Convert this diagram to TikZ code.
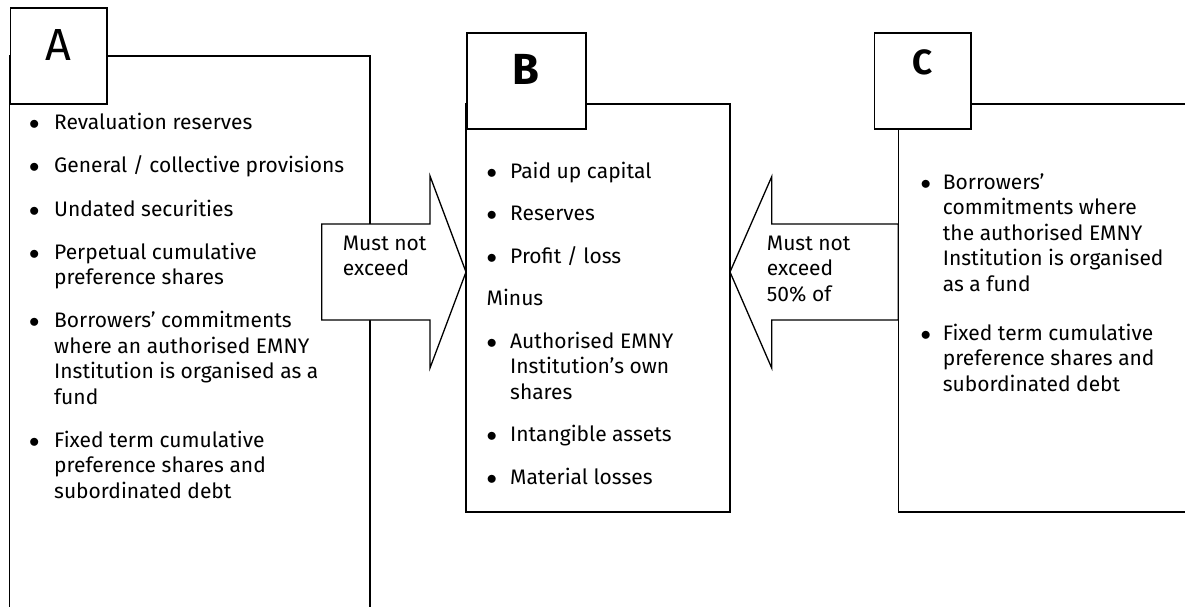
\documentclass[tikz,border=0pt]{standalone}
\usepackage{fontspec}
\setmainfont{Fira Sans}
\newcommand{\bodyfnt}{\fontsize{21}{25.5}\selectfont}
\newcommand{\bul}{$\bullet$}
\begin{document}
\begin{tikzpicture}[x=1pt,y=-1pt,
  box/.style={line width=1.6pt},
  lbl/.style={draw,line width=1.6pt,fill=white,minimum width=#1,minimum height=96pt,inner sep=0pt,anchor=north west},
  arrowshape/.style={draw,line width=1.3pt,fill=white,line join=miter},
  body/.style={inner sep=0pt,anchor=base west,font=\bodyfnt},
]
\useasboundingbox (0,0) rectangle (1185,607);

% ---------- Box A ----------
\draw[box] (9.5,607) -- (9.5,56) -- (370,56) -- (370,607);
\node[lbl=96.5pt,text height=40pt,text depth=30pt,font=\fontsize{45}{54}\selectfont] (A) at (9.5,7) {A};
\node[body] (Alist) at (29,130) {\begin{tabular}[t]{@{}p{25pt}@{}l@{}}
\bul & Revaluation reserves\\[17.5pt]
\bul & General / collective provisions\\[17.5pt]
\bul & Undated securities\\[17.5pt]
\bul & Perpetual cumulative\\
 & preference shares\\[17.5pt]
\bul & Borrowers’ commitments\\
 & where an authorised EMNY\\
 & Institution is organised as a\\
 & fund\\[17.5pt]
\bul & Fixed term cumulative\\
 & preference shares and\\
 & subordinated debt
\end{tabular}};

% ---------- Arrow A -> B ----------
\coordinate (tipAB) at (466,272);
\draw[arrowshape] (321.7,224) -- (430,224) -- (430,176) -- (tipAB) -- (430,368) -- (430,320) -- (321.7,320) -- cycle;
\node[body] (mustAB) at (342.7,250) {\begin{tabular}[t]{@{}l@{}}Must not\\exceed\end{tabular}};

% ---------- Box B ----------
\draw[box] (466,104) rectangle (730,512);
\node[lbl=119pt,text height=40pt,text depth=33.4pt,font=\bfseries\fontsize{43.5}{52}\selectfont] (B) at (466,32) {B};
\node[body] (Blist) at (486.5,178.3) {\begin{tabular}[t]{@{}p{23.5pt}@{}l@{}}
\bul & Paid up capital\\[17pt]
\bul & Reserves\\[17pt]
\bul & Profit / loss\\[17pt]
\multicolumn{2}{@{}l@{}}{Minus}\\[17pt]
\bul & Authorised EMNY\\
 & Institution’s own\\
 & shares\\[17pt]
\bul & Intangible assets\\[17pt]
\bul & Material losses
\end{tabular}};

% ---------- Arrow C -> B ----------
\coordinate (tipCB) at (730,272);
\draw[arrowshape] (898.3,224) -- (771.7,224) -- (771.7,176.7) -- (tipCB) -- (771.7,368) -- (771.7,320) -- (898.3,320) -- cycle;
\node[body] (mustCB) at (766.7,250) {\begin{tabular}[t]{@{}l@{}}Must not\\exceed\\50\% of\end{tabular}};

% ---------- Box C ----------
\draw[box] (1185,104) -- (898.3,104) -- (898.3,512) -- (1185,512);
\node[lbl=96.6pt,text height=30pt,text depth=42pt,font=\bfseries\fontsize{35}{42}\selectfont] (C) at (873.7,32) {C};
\node[body] (Clist) at (920.5,189.3) {\begin{tabular}[t]{@{}p{22.2pt}@{}l@{}}
\bul & Borrowers’\\
 & commitments where\\
 & the authorised EMNY\\
 & Institution is organised\\
 & as a fund\\[23.5pt]
\bul & Fixed term cumulative\\
 & preference shares and\\
 & subordinated debt
\end{tabular}};
\end{tikzpicture}
\end{document}
